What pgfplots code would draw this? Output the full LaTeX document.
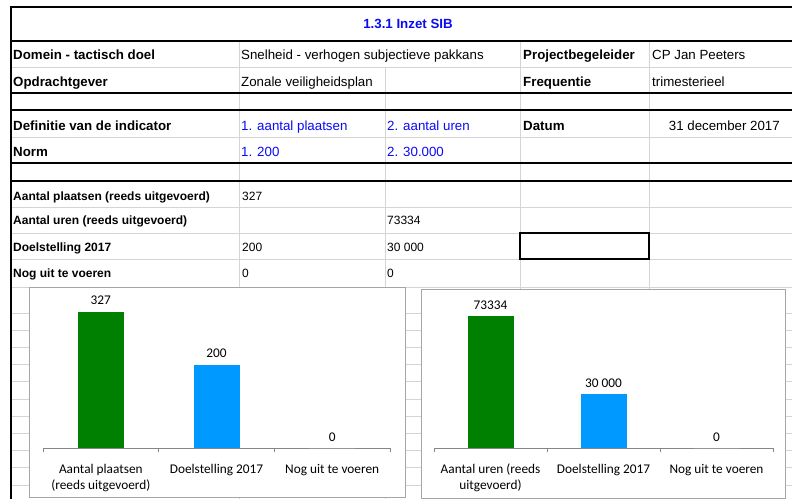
\documentclass[border=0pt]{standalone}
\usepackage{pgfplots}
\pgfplotsset{compat=1.18}
\usepackage{fontspec}
\setmainfont{Liberation Sans}
\newfontfamily\carlito{Carlito}
\definecolor{gridc}{RGB}{212,212,212}
\definecolor{xblue}{RGB}{10,10,245}
\definecolor{bargreen}{RGB}{0,128,0}
\definecolor{barblue}{RGB}{0,153,255}
\definecolor{framec}{RGB}{165,165,165}
\definecolor{axisgray}{RGB}{134,134,134}
\newcommand{\fa}{\fontsize{13.3}{16}\selectfont}
\newcommand{\fb}{\fontsize{12}{14}\selectfont}
\newcommand{\fc}{\carlito\fontsize{13.3}{16}\selectfont}
\begin{document}
\begin{tikzpicture}
\useasboundingbox (0,0) rectangle (792pt,-499pt);
\begin{scope}[x=1pt,y=-1pt]
\fill[white] (0,0) rectangle (792,499);
% light grid lines
\foreach \y in {67,137,207,233,259,287,313,330.2,347.4,364.6,381.8,399,416.2,433.4,450.6,467.8,485}
  \draw[gridc, line width=1pt] (11,\y) -- (792,\y);
\foreach \x in {239,520,649}
  \draw[gridc, line width=1pt] (\x,41) -- (\x,499);
\draw[gridc, line width=1pt] (385,67) -- (385,499);
% thick black lines
\foreach \y in {7,41,93,110,163,181}
  \draw[black, line width=2pt] (10,\y) -- (792,\y);
\draw[black, line width=2pt] (11,6) -- (11,499);
\draw[black, line width=1.5pt] (520,233) rectangle (649,259);
% texts
\node[anchor=base, inner sep=0pt, text=xblue, font=\fa\bfseries] at (408,28) {1.3.1 Inzet SIB};
\node[anchor=base west, inner sep=0pt, font=\fa\bfseries] at (13,59) {Domein - tactisch doel};
\node[anchor=base west, inner sep=0pt, font=\fa] at (241,59) {Snelheid - verhogen subjectieve pakkans};
\node[anchor=base west, inner sep=0pt, font=\fa\bfseries] at (523,59) {Projectbegeleider};
\node[anchor=base west, inner sep=0pt, font=\fa] at (652,59) {CP Jan Peeters};
\node[anchor=base west, inner sep=0pt, font=\fa\bfseries] at (13,86) {Opdrachtgever};
\node[anchor=base west, inner sep=0pt, font=\fa] at (241,86) {Zonale veiligheidsplan};
\node[anchor=base west, inner sep=0pt, font=\fa\bfseries] at (523,86) {Frequentie};
\node[anchor=base west, inner sep=0pt, font=\fa] at (652,86) {trimesterieel};
\node[anchor=base west, inner sep=0pt, font=\fa\bfseries] at (13,130) {Definitie van de indicator};
\node[anchor=base west, inner sep=0pt, font=\fa, text=xblue] at (241,130) {1. aantal plaatsen};
\node[anchor=base west, inner sep=0pt, font=\fa, text=xblue] at (387,130) {2. aantal uren};
\node[anchor=base west, inner sep=0pt, font=\fa\bfseries] at (523,130) {Datum};
\node[anchor=base east, inner sep=0pt, font=\fa] at (780,130) {31 december 2017};
\node[anchor=base west, inner sep=0pt, font=\fa\bfseries] at (13,156) {Norm};
\node[anchor=base west, inner sep=0pt, font=\fa, text=xblue] at (241,156) {1. 200};
\node[anchor=base west, inner sep=0pt, font=\fa, text=xblue] at (387,156) {2. 30.000};
\node[anchor=base west, inner sep=0pt, font=\fb\bfseries] at (13,200) {Aantal plaatsen (reeds uitgevoerd)};
\node[anchor=base west, inner sep=0pt, font=\fb] at (242,200) {327};
\node[anchor=base west, inner sep=0pt, font=\fb\bfseries] at (13,224) {Aantal uren (reeds uitgevoerd)};
\node[anchor=base west, inner sep=0pt, font=\fb] at (387,224) {73334};
\node[anchor=base west, inner sep=0pt, font=\fb\bfseries] at (13,251) {Doelstelling 2017};
\node[anchor=base west, inner sep=0pt, font=\fb] at (242,251) {200};
\node[anchor=base west, inner sep=0pt, font=\fb] at (387,251) {30 000};
\node[anchor=base west, inner sep=0pt, font=\fb\bfseries] at (13,277) {Nog uit te voeren};
\node[anchor=base west, inner sep=0pt, font=\fb] at (242,277) {0};
\node[anchor=base west, inner sep=0pt, font=\fb] at (387,277) {0};
% chart frames
\filldraw[fill=white, draw=framec, line width=1pt] (29.5,287.5) rectangle (405,497);
\filldraw[fill=white, draw=framec, line width=1pt] (421,289.5) rectangle (785,498);
\end{scope}
\pgfplotsset{
  xlchart/.style={
    scale only axis, anchor=south west, clip=false,
    enlargelimits=false, xmin=-0.5, xmax=2.5, ymin=0,
    axis x line*=bottom, axis y line=none,
    x axis line style={draw=axisgray, line width=0.8pt},
    xtick={0,1,2}, major tick length=0pt,
    minor xtick={-0.5,0.5,1.5,2.5}, minor tick length=4pt,
    xtick align=outside,
    tick style={draw=axisgray, line width=0.8pt},
    xticklabel style={font=\fc, align=center, anchor=north, inner sep=0pt, yshift=-16pt},
    ybar, bar width=46pt,
    nodes near coords, point meta=explicit symbolic,
    every node near coord/.append style={font=\fc, anchor=base, inner sep=0pt, yshift=7pt, text=black},
  }
}
\begin{axis}[xlchart, at={(43pt,-448pt)}, width=347pt, height=146pt, ymax=350,
  xticklabels={{Aantal plaatsen\\(reeds uitgevoerd)},{Doelstelling 2017},{Nog uit te voeren}}]
\addplot[fill=bargreen, draw=none, bar shift=0pt] coordinates {(0,327) [327]};
\addplot[fill=barblue, draw=none, bar shift=0pt] coordinates {(1,200) [200]};
\addplot[fill=white, draw=none, bar shift=0pt] coordinates {(2,0) [0]};
\end{axis}
\begin{axis}[xlchart, at={(434pt,-448pt)}, width=339pt, height=144pt, ymax=80000,
  xticklabels={{Aantal uren (reeds\\uitgevoerd)},{Doelstelling 2017},{Nog uit te voeren}}]
\addplot[fill=bargreen, draw=none, bar shift=0pt] coordinates {(0,73334) [73334]};
\addplot[fill=barblue, draw=none, bar shift=0pt] coordinates {(1,30000) [30 000]};
\addplot[fill=white, draw=none, bar shift=0pt] coordinates {(2,0) [0]};
\end{axis}
\end{tikzpicture}
\end{document}
